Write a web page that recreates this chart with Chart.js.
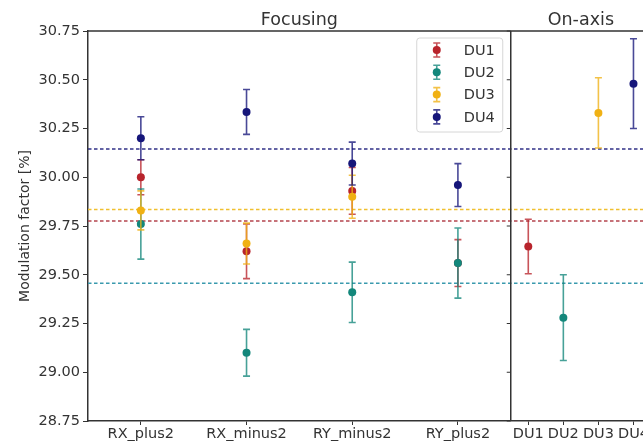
<!DOCTYPE html>
<html>
<head>
<meta charset="utf-8">
<script src="https://cdn.jsdelivr.net/npm/chart.js@4.4.0/dist/chart.umd.min.js"></script>
<style>
  html, body { margin: 0; padding: 0; background: #fff; overflow: hidden; }
  #wrap { width: 643px; height: 442px; overflow: hidden; }
  canvas { display: block; }
</style>
</head>
<body>
<div id="wrap"><canvas id="chart" width="660" height="442"></canvas></div>
<script>
// categories
const focusLabels = ['RX_plus2', 'RX_minus2', 'RY_minus2', 'RY_plus2'];
const onAxisLabels = ['DU1', 'DU2', 'DU3', 'DU4'];
const panelTitles = ['Focusing', 'On-axis'];
const yTickValues = [28.75, 29.00, 29.25, 29.50, 29.75, 30.00, 30.25, 30.50, 30.75];

// focusing values per DU (null = no point)
const du1Focus = [30.00, 29.62, 29.93, 29.56];
const du1FocusErr = [0.09, 0.14, 0.12, 0.12];
const du2Focus = [29.76, 29.10, 29.41, 29.56];
const du2FocusErr = [0.18, 0.12, 0.155, 0.18];
const du3Focus = [29.83, 29.66, 29.90, null];
const du3FocusErr = [0.10, 0.105, 0.11, null];
const du4Focus = [30.20, 30.335, 30.07, 29.96];
const du4FocusErr = [0.11, 0.115, 0.11, 0.11];

// on-axis value per DU
const onAxisValues = [29.645, 29.28, 30.33, 30.48];
const onAxisErrors = [0.14, 0.22, 0.18, 0.23];

// dashed reference lines
const meanValues = [29.776, 29.456, 29.834, 30.145];

const colors = ['#b8242c', '#13877b', '#f0b114', '#16167a'];
const meanColors = ['#b4444e', '#3a9aae', '#f0c030', '#303088'];

const textColor = '#333';
const font = { family: 'DejaVu Sans', size: 14.5 };

// x layout: focusing categories are 1 unit wide, on-axis ones narrower
const onAxisStep = 35 / 105.5;
const xMax = focusLabels.length + onAxisLabels.length * onAxisStep;
const focusX = focusLabels.map((l, i) => i + 0.5);
const onAxisX = onAxisLabels.map((l, i) => focusLabels.length + (i + 0.5) * onAxisStep);
const tickPositions = focusX.concat(onAxisX);
const tickLabels = focusLabels.concat(onAxisLabels);

const focusSets = [du1Focus, du2Focus, du3Focus, du4Focus];
const focusErrSets = [du1FocusErr, du2FocusErr, du3FocusErr, du4FocusErr];

const pointSets = onAxisLabels.map((name, k) => {
  const pts = [];
  focusSets[k].forEach((v, i) => {
    if (v !== null) pts.push({ x: focusX[i], y: v, err: focusErrSets[k][i] });
  });
  pts.push({ x: onAxisX[k], y: onAxisValues[k], err: onAxisErrors[k] });
  return {
    type: 'scatter',
    label: name,
    data: pts,
    backgroundColor: colors[k],
    borderColor: colors[k],
    pointRadius: 4,
    pointBorderWidth: 0,
    order: 4 - k,
    errorBars: true
  };
});

const meanSets = meanValues.map((m, k) => ({
  type: 'line',
  label: 'mean ' + onAxisLabels[k],
  data: [{ x: 0, y: m }, { x: xMax, y: m }],
  borderColor: meanColors[k],
  borderWidth: 1.5,
  borderDash: [3.5, 2.5],
  pointRadius: 0,
  order: 10
}));

function withAlpha(hex, a) {
  const n = parseInt(hex.slice(1), 16);
  return `rgba(${n >> 16},${(n >> 8) & 255},${n & 255},${a})`;
}

const errorBarPlugin = {
  id: 'errorBars',
  beforeDatasetDraw(chart, args) {
    const ds = chart.data.datasets[args.index];
    if (!ds.errorBars) return;
    const yScale = chart.scales.y;
    const ctx = chart.ctx;
    ctx.save();
    ctx.strokeStyle = withAlpha(ds.borderColor, 0.78);
    ctx.lineWidth = 1.6;
    args.meta.data.forEach((el, i) => {
      const p = ds.data[i];
      const top = yScale.getPixelForValue(p.y + p.err);
      const bot = yScale.getPixelForValue(p.y - p.err);
      ctx.beginPath();
      ctx.moveTo(el.x, top); ctx.lineTo(el.x, bot);
      ctx.moveTo(el.x - 3.5, top); ctx.lineTo(el.x + 3.5, top);
      ctx.moveTo(el.x - 3.5, bot); ctx.lineTo(el.x + 3.5, bot);
      ctx.stroke();
    });
    ctx.restore();
  }
};

const panelPlugin = {
  id: 'panels',
  afterDatasetsDraw(chart) {
    const { ctx, chartArea, scales } = chart;
    const xDiv = scales.x.getPixelForValue(focusLabels.length);
    ctx.save();
    ctx.strokeStyle = textColor;
    ctx.lineWidth = 1.5;
    ctx.beginPath();
    ctx.moveTo(chartArea.left, chartArea.top);
    ctx.lineTo(chartArea.right, chartArea.top);
    ctx.moveTo(xDiv, chartArea.top);
    ctx.lineTo(xDiv, chartArea.bottom);
    ctx.stroke();
    // tick marks of the second panel's shared y axis
    ctx.lineWidth = 1;
    yTickValues.forEach(v => {
      const y = scales.y.getPixelForValue(v);
      ctx.beginPath();
      ctx.moveTo(xDiv - 4, y);
      ctx.lineTo(xDiv, y);
      ctx.stroke();
    });
    // panel titles
    ctx.fillStyle = textColor;
    ctx.font = '17.5px "DejaVu Sans"';
    ctx.textAlign = 'center';
    ctx.textBaseline = 'alphabetic';
    ctx.fillText(panelTitles[0], scales.x.getPixelForValue(focusLabels.length / 2), chartArea.top - 6);
    ctx.fillText(panelTitles[1], scales.x.getPixelForValue((focusLabels.length + xMax) / 2), chartArea.top - 6);
    ctx.restore();
  },
  afterDraw(chart) {
    const { ctx, chartArea, scales } = chart;
    const xDiv = scales.x.getPixelForValue(focusLabels.length);
    const w = 86, h = 94;
    const left = xDiv - 8 - w, top = chartArea.top + 7;
    ctx.save();
    ctx.fillStyle = 'rgba(255,255,255,0.85)';
    ctx.strokeStyle = '#d6d6d6';
    ctx.lineWidth = 1;
    ctx.beginPath();
    ctx.roundRect(left, top, w, h, 3);
    ctx.fill();
    ctx.stroke();
    ctx.font = '14.5px "DejaVu Sans"';
    ctx.textBaseline = 'middle';
    ctx.textAlign = 'left';
    onAxisLabels.forEach((name, k) => {
      const cy = top + 12 + k * 22.3;
      const mx = left + 20;
      ctx.strokeStyle = withAlpha(colors[k], 0.78);
      ctx.lineWidth = 1.6;
      ctx.beginPath();
      ctx.moveTo(mx, cy - 7); ctx.lineTo(mx, cy + 7);
      ctx.moveTo(mx - 3.5, cy - 7); ctx.lineTo(mx + 3.5, cy - 7);
      ctx.moveTo(mx - 3.5, cy + 7); ctx.lineTo(mx + 3.5, cy + 7);
      ctx.stroke();
      ctx.fillStyle = colors[k];
      ctx.beginPath();
      ctx.arc(mx, cy, 4, 0, Math.PI * 2);
      ctx.fill();
      ctx.fillStyle = textColor;
      ctx.fillText(name, left + 47, cy + 1);
    });
    ctx.restore();
  }
};

new Chart(document.getElementById('chart'), {
  data: { datasets: meanSets.concat(pointSets) },
  options: {
    responsive: false,
    devicePixelRatio: 1,
    animation: false,
    layout: { padding: { top: 31, right: 9, left: 0, bottom: 0 } },
    plugins: { legend: { display: false }, tooltip: { enabled: false } },
    scales: {
      x: {
        type: 'linear',
        min: 0,
        max: xMax,
        afterBuildTicks: s => { s.ticks = tickPositions.map(v => ({ value: v })); },
        afterFit: s => { s.height = 21; },
        ticks: {
          autoSkip: false,
          maxRotation: 0,
          padding: 1,
          color: textColor,
          font: font,
          callback: (v, i) => tickLabels[i]
        },
        grid: { drawOnChartArea: false, tickLength: 4, color: textColor },
        border: { color: textColor, width: 1.5 }
      },
      y: {
        min: 28.75,
        max: 30.75,
        afterBuildTicks: s => { s.ticks = yTickValues.map(v => ({ value: v })); },
        afterFit: s => { s.width = 88; },
        ticks: {
          padding: 3,
          color: textColor,
          font: font,
          callback: v => v.toFixed(2)
        },
        grid: { drawOnChartArea: false, tickLength: 5, color: textColor },
        border: { color: textColor, width: 1.5 },
        title: {
          display: true,
          text: 'Modulation factor [%]',
          color: textColor,
          font: { family: 'DejaVu Sans', size: 14 },
          padding: { top: 17, bottom: 0 }
        }
      }
    }
  },
  plugins: [errorBarPlugin, panelPlugin]
});
</script>
</body>
</html>
